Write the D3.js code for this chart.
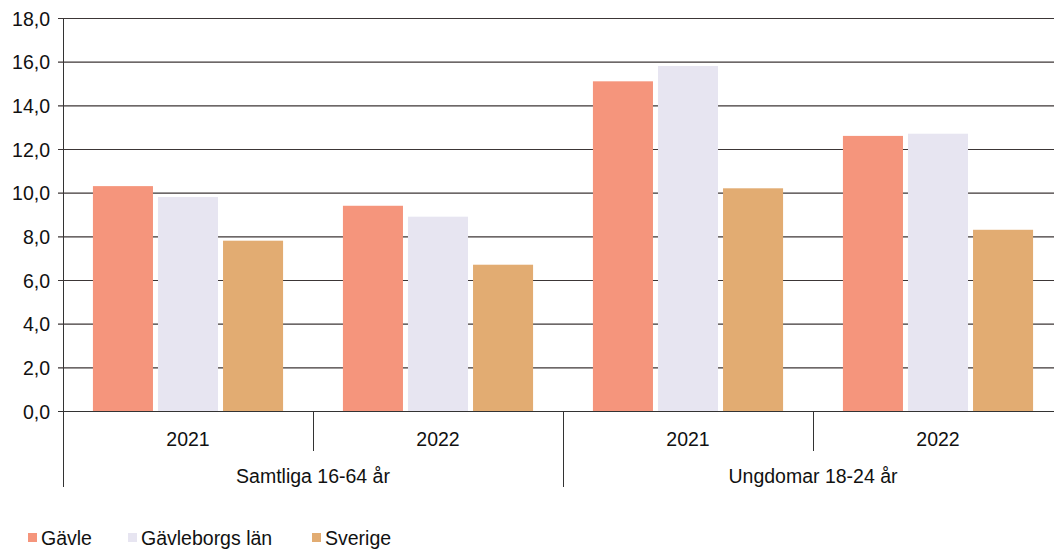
<!DOCTYPE html>
<html><head><meta charset="utf-8">
<script src="https://cdn.jsdelivr.net/npm/d3@7"></script>
<style>
html,body{margin:0;padding:0;background:#fff;}
svg{display:block;font-family:"Liberation Sans",Arial,sans-serif;}
</style></head>
<body><svg id="c" width="1054" height="552"></svg>
<script>
const groups = ["Samtliga 16-64 år", "Ungdomar 18-24 år"];
const years = ["2021", "2022"];
const series = ["Gävle", "Gävleborgs län", "Sverige"];
const gavle = [10.3, 9.4, 15.1, 12.6];
const gavleborg = [9.8, 8.9, 15.8, 12.7];
const sverige = [7.8, 6.7, 10.2, 8.3];
const yTicks = [0, 2, 4, 6, 8, 10, 12, 14, 16, 18];
const colors = ["#f5957c", "#e7e5f1", "#e2ac72"];

(function () {
const cats = [];
groups.forEach((g, gi) => years.forEach((yr, yi) => cats.push({key: gi + "-" + yi, group: g, year: yr, gi, yi})));
const values = [gavle, gavleborg, sverige];

const svg = d3.select("#c");
const mLeft = 63, mBottom = 411, mTop = 18;
const x0 = d3.scaleBand().domain(cats.map(c => c.key)).range([mLeft, mLeft + 1000]).padding(0);
const x1 = d3.scaleBand().domain(series).range([0, x0.bandwidth()]).paddingInner(0.077).paddingOuter(0.46);
const y = d3.scaleLinear().domain([0, 18]).range([mBottom, mTop]);
const fmt = v => d3.format(".1f")(v).replace(".", ",");

// gridlines + y axis
const yAxis = d3.axisLeft(y).tickValues(yTicks).tickFormat(fmt).tickSize(-(1054 - mLeft)).tickSizeOuter(0).tickPadding(8);
const gy = svg.append("g").attr("transform", `translate(${mLeft},0)`).call(yAxis);
gy.select(".domain").attr("stroke", "#333").attr("d", `M0.5,${mTop}V${mBottom}`);
gy.selectAll(".tick line").attr("stroke", "#3c3636").attr("stroke-width", 1.2).attr("x1", -5);
gy.selectAll(".tick text").attr("fill", "#111").style("font-size", "19.5px").attr("x", -13).attr("dy", "0.36em");

// bars
const gBars = svg.append("g");
cats.forEach((c, ci) => {
  series.forEach((s, si) => {
    const v = values[si][ci];
    gBars.append("rect")
      .attr("x", x0(c.key) + x1(s))
      .attr("y", y(v))
      .attr("width", x1.bandwidth())
      .attr("height", y(0) - y(v))
      .attr("fill", colors[si]);
  });
});

// x axis line
svg.append("line").attr("x1", mLeft - 5).attr("x2", 1054).attr("y1", mBottom + 0.5).attr("y2", mBottom + 0.5)
  .attr("stroke", "#333").attr("stroke-width", 1.2);

// category dividers and labels
const xa = svg.append("g");
cats.forEach((c, ci) => {
  const xs = x0(c.key);
  const long = c.yi === 0;
  xa.append("line").attr("x1", xs + 0.5).attr("x2", xs + 0.5).attr("y1", mBottom).attr("y2", long ? 487 : 451)
    .attr("stroke", "#333").attr("stroke-width", 1);
  xa.append("text").attr("x", xs + x0.bandwidth() / 2).attr("y", 446).attr("text-anchor", "middle")
    .attr("fill", "#111").style("font-size", "19.5px").text(c.year);
});
groups.forEach((g, gi) => {
  const k0 = gi + "-0";
  xa.append("text").attr("x", x0(k0) + x0.bandwidth()).attr("y", 483).attr("text-anchor", "middle")
    .attr("fill", "#111").style("font-size", "19.5px").text(g);
});

// legend
const legX = [28, 128, 312];
const lg = svg.append("g");
series.forEach((s, si) => {
  lg.append("rect").attr("x", legX[si]).attr("y", 533).attr("width", 9).attr("height", 9).attr("fill", colors[si]);
  lg.append("text").attr("x", legX[si] + 13).attr("y", 545).attr("fill", "#111").style("font-size", "19.5px").text(s);
});
})();
</script></body></html>
